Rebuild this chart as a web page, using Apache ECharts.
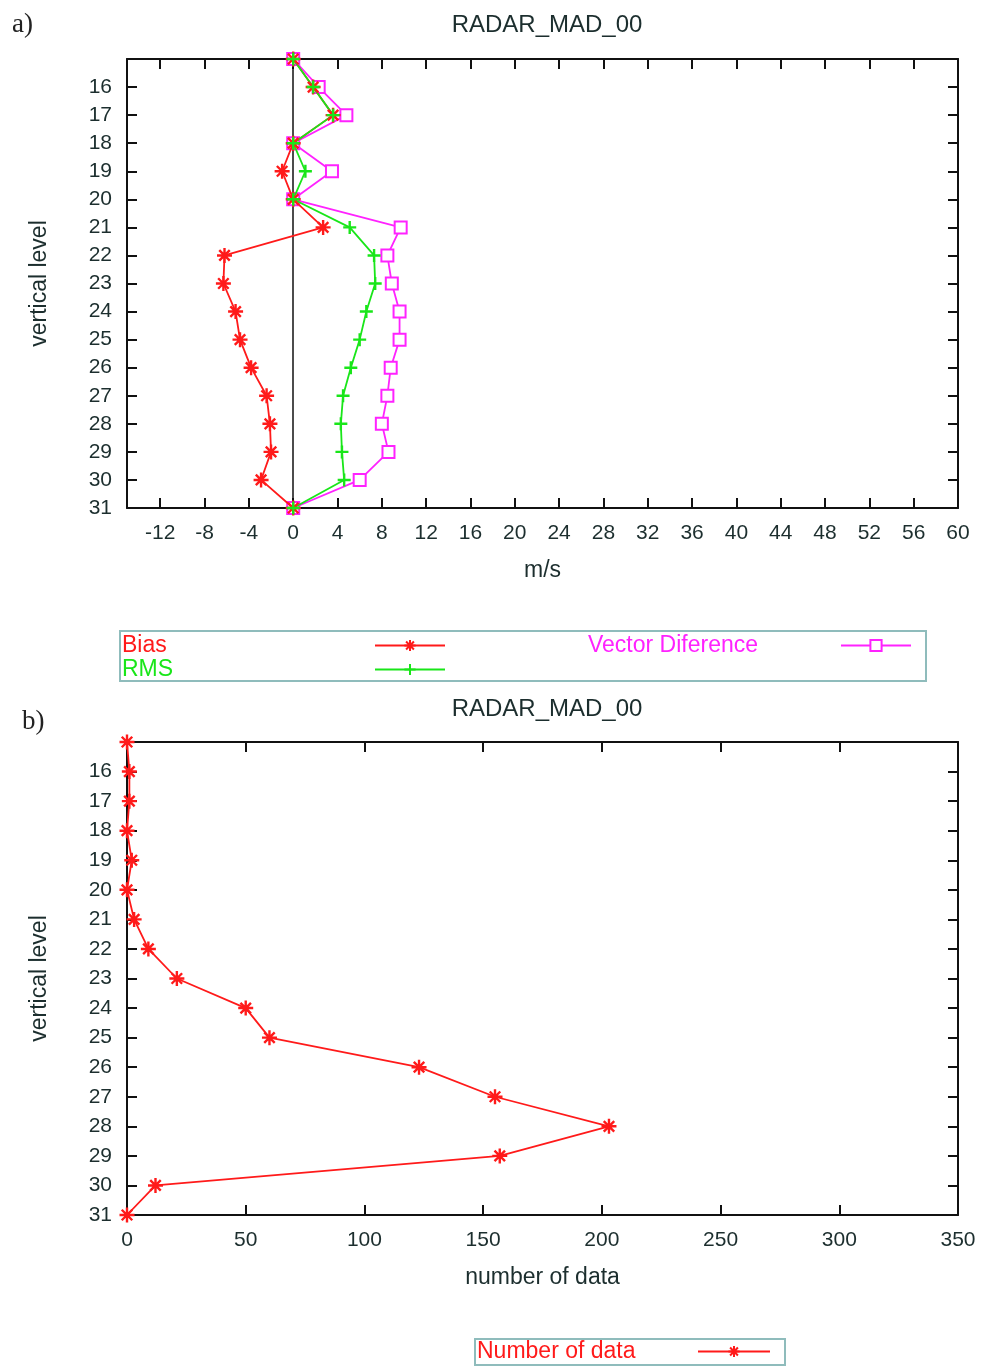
<!DOCTYPE html>
<html><head><meta charset="utf-8">
<script src="https://cdn.jsdelivr.net/npm/echarts@6/dist/echarts.min.js"></script>
<style>html,body{margin:0;padding:0;background:#fff}#c{width:983px;height:1367px}</style>
</head><body><div id="c"></div>
<script>
// ---- data ----
const levels = [15,16,17,18,19,20,21,22,23,24,25,26,27,28,29,30,31];
const bias    = [0,1.8,3.6,0,-1.0,0,2.7,-6.2,-6.3,-5.2,-4.8,-3.8,-2.4,-2.1,-2.0,-2.9,0];
const rms     = [0,1.8,3.6,0,1.1,0,5.1,7.3,7.4,6.6,6.0,5.2,4.5,4.3,4.4,4.6,0];
const vecDiff = [0,2.3,4.8,0,3.5,0,9.7,8.5,8.9,9.6,9.6,8.8,8.5,8.0,8.6,6.0,0];
const numData = [0,1,1,0,2,0,3,9,21,50,60,123,155,203,157,12,0];
const xTicksTop = [-12,-8,-4,0,4,8,12,16,20,24,28,32,36,40,44,48,52,56,60];
const xTicksBottom = [0,50,100,150,200,250,300,350];
const yTicks = [16,17,18,19,20,21,22,23,24,25,26,27,28,29,30,31];
const panelTitle = 'RADAR_MAD_00';

// ---- style ----
const FONT = 'Liberation Sans';
const RED = '#ff1a1a', GREEN = '#19e619', MAG = '#ff22ff';
const LBL = '#1c2e2e';
const STAR = 'path://M0,5L10,5M5,0L5,10M1.5,1.5L8.5,8.5M8.5,1.5L1.5,8.5';
const PLUS = 'path://M0,5L10,5M5,0L5,10';

function xAx(grid, min, max, ticks, name, show) {
  return {
    type: 'value', gridIndex: grid, min, max, position: show ? 'bottom' : 'top',
    name: show ? name : '', nameLocation: 'middle', nameGap: 51,
    nameTextStyle: {fontFamily: FONT, fontSize: 23, color: LBL},
    axisLine: {show: true, onZero: false, lineStyle: {color: '#111', width: 2}},
    axisTick: {show: true, inside: true, length: 10, customValues: ticks, lineStyle: {color: '#111', width: 2}},
    axisLabel: {show: show, customValues: ticks, margin: 15, fontFamily: FONT, fontSize: 21, color: LBL},
    splitLine: {show: false}
  };
}
function yAx(grid, show) {
  return {
    type: 'value', gridIndex: grid, min: 15, max: 31, inverse: true, position: show ? 'left' : 'right',
    name: show ? 'vertical level' : '', nameLocation: 'middle', nameGap: 76, nameRotate: 90,
    nameTextStyle: {fontFamily: FONT, fontSize: 23, color: LBL},
    axisLine: {show: true, onZero: false, lineStyle: {color: '#111', width: 2}},
    axisTick: {show: true, inside: true, length: 10, customValues: yTicks, lineStyle: {color: '#111', width: 2}},
    axisLabel: {show: show, customValues: yTicks, margin: 15, fontFamily: FONT, fontSize: 21, color: LBL},
    splitLine: {show: false}
  };
}
function ser(name, vals, color, symbol, size, xi, yi, extra) {
  return Object.assign({
    name, type: 'line', xAxisIndex: xi, yAxisIndex: yi,
    data: vals.map((v, i) => [v, levels[i]]),
    symbol, symbolSize: size, showAllSymbol: true,
    lineStyle: {color, width: 1.8},
    itemStyle: {color, borderColor: color, borderWidth: 2.4},
    z: 3
  }, extra || {});
}
function legendItem(name, color) {
  return {name, textStyle: {color}};
}
function legendText(w) {
  return {fontFamily: FONT, fontSize: 23, rich: {t: {width: w, align: 'left', fontFamily: FONT, fontSize: 23, lineHeight: 24}}};
}

const chart = echarts.init(document.getElementById('c'));
chart.setOption({
  animation: false,
  backgroundColor: '#fff',
  title: [
    {text: panelTitle, left: 542, top: 8, textAlign: 'center', textStyle: {fontFamily: FONT, fontSize: 24, fontWeight: 'normal', color: LBL}},
    {text: panelTitle, left: 542, top: 692, textAlign: 'center', textStyle: {fontFamily: FONT, fontSize: 24, fontWeight: 'normal', color: LBL}},
    {text: 'a)', left: 7, top: 6, textStyle: {fontFamily: 'Liberation Serif', fontSize: 27, fontWeight: 'normal', color: '#222'}},
    {text: 'b)', left: 17, top: 703, textStyle: {fontFamily: 'Liberation Serif', fontSize: 27, fontWeight: 'normal', color: '#222'}}
  ],
  grid: [
    {left: 127, right: 25, top: 59, height: 449},
    {left: 127, right: 25, top: 742, height: 473}
  ],
  xAxis: [
    xAx(0, -15, 60, xTicksTop, 'm/s', true),
    xAx(0, -15, 60, xTicksTop, '', false),
    xAx(1, 0, 350, xTicksBottom, 'number of data', true),
    xAx(1, 0, 350, xTicksBottom, '', false)
  ],
  yAxis: [yAx(0, true), yAx(0, false), yAx(1, true), yAx(1, false)],
  graphic: [
    {type: 'rect', shape: {x: 120, y: 631, width: 806, height: 50}, style: {fill: 'none', stroke: '#8fbcbc', lineWidth: 2}, silent: true},
    {type: 'rect', shape: {x: 475, y: 1339, width: 310, height: 26}, style: {fill: 'none', stroke: '#8fbcbc', lineWidth: 2}, silent: true}
  ],
  legend: [
    {
      data: [legendItem('Bias', RED), legendItem('RMS', GREEN)],
      orient: 'vertical', left: 122, top: 634, padding: 0, itemGap: 1,
      align: 'right', itemWidth: 70, itemHeight: 14,
      formatter: n => '{t|' + n + '}',
      textStyle: legendText(248)
    },
    {
      data: [legendItem('Vector Diference', MAG)],
      orient: 'vertical', left: 588, top: 634, padding: 0, itemGap: 1,
      align: 'right', itemWidth: 70, itemHeight: 14,
      formatter: n => '{t|' + n + '}',
      textStyle: legendText(248)
    },
    {
      data: [legendItem('Number of data', RED)],
      orient: 'vertical', left: 477, top: 1340, padding: 0, itemGap: 0,
      align: 'right', itemWidth: 72, itemHeight: 14,
      formatter: n => '{t|' + n + '}',
      textStyle: legendText(216)
    }
  ],
  series: [
    ser('Bias', bias, RED, STAR, 15, 0, 0, {
      markLine: {silent: true, symbol: ['none', 'none'], label: {show: false}, z: 1,
        lineStyle: {color: '#111', type: 'solid', width: 1.5}, data: [{xAxis: 0}]}
    }),
    ser('RMS', rms, GREEN, PLUS, 13, 0, 0),
    ser('Vector Diference', vecDiff, MAG, 'emptyRect', 12, 0, 0, {z: 2}),
    ser('Number of data', numData, RED, STAR, 15, 2, 2)
  ]
});
</script>
</body></html>
